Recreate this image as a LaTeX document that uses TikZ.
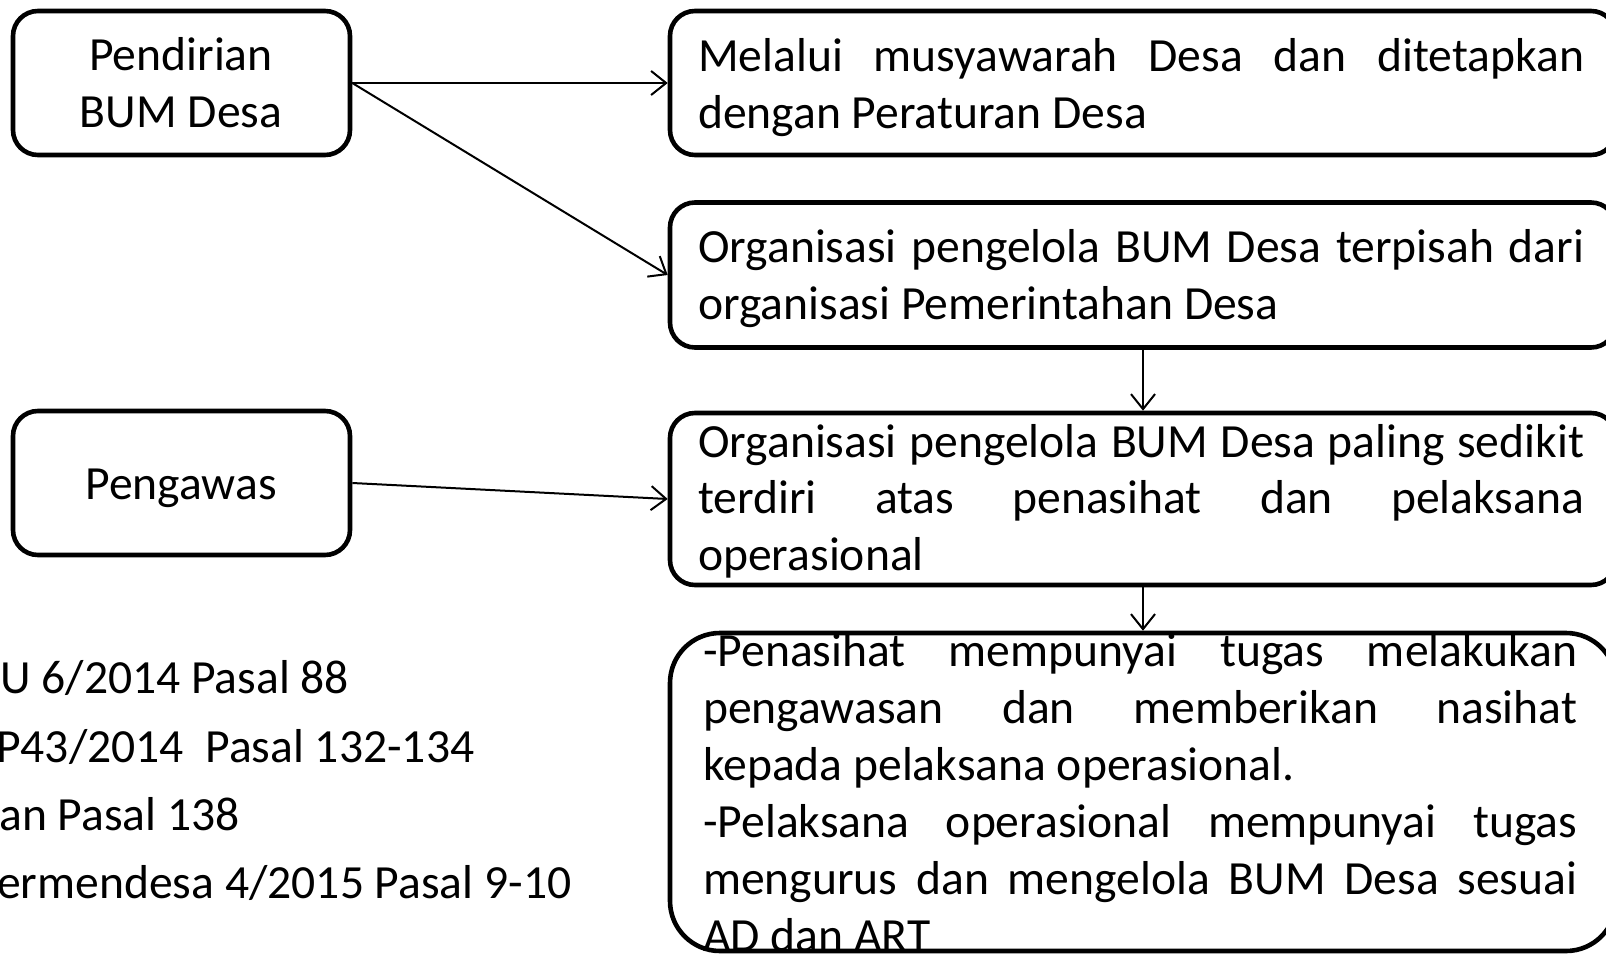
\documentclass[tikz,border=0pt]{standalone}
\usepackage{fontspec}
\setmainfont{Carlito}
\usetikzlibrary{arrows.meta}
\begin{document}
\begin{tikzpicture}[x=1pt,y=-1pt,
  box/.style={draw, line width=4.6pt, rounded corners=25pt, inner sep=0pt},
  bigbox/.style={box, rounded corners=50pt},
  txt/.style={inner sep=0pt, anchor=base west, align=left, font=\fontsize{47.6}{57}\selectfont},
  ctxt/.style={inner sep=0pt, anchor=base, align=center, font=\fontsize{47.6}{57}\selectfont},
  conn/.style={line width=2pt, -{Straight Barb[length=15pt,width=24pt]}}]
\useasboundingbox (0,0) rectangle (1606,955);
\clip (0,0) rectangle (1606,955);
% texts (anchor = baseline of last line)
\node[ctxt] (tpend) at (181,128) {Pendirian\\BUM Desa};
\node[ctxt] (tpeng) at (181,499) {Pengawas};
\node[txt] (t2) at (698,129) {\makebox[886pt][s]{Melalui musyawarah Desa dan ditetapkan}\\dengan Peraturan Desa};
\node[txt] (t3) at (698,319) {\makebox[886pt][s]{Organisasi pengelola BUM Desa terpisah dari}\\organisasi Pemerintahan Desa};
\node[txt, font=\fontsize{47.6}{56.5}\selectfont] (t5) at (698,570) {\makebox[886pt][s]{Organisasi pengelola BUM Desa paling sedikit}\\\makebox[886pt][s]{terdiri atas penasihat dan pelaksana}\\operasional};
\node[txt, font=\fontsize{47.6}{57}\selectfont] (t6) at (703,951) {\makebox[874pt][s]{-Penasihat mempunyai tugas melakukan}\\\makebox[874pt][s]{pengawasan dan memberikan nasihat}\\kepada pelaksana operasional.\\\makebox[874pt][s]{-Pelaksana operasional mempunyai tugas}\\\makebox[874pt][s]{mengurus dan mengelola BUM Desa sesuai}\\AD dan ART};
\node[txt] (l1) at (0,693) {U 6/2014 Pasal 88};
\node[txt] (l2) at (-4,762) {P43/2014\ \ Pasal 132-134};
\node[txt] (l3) at (-1,830) {an Pasal 138};
\node[txt] (l4) at (-3,898) {ermendesa 4/2015 Pasal 9-10};
% boxes
\node[box, minimum width=337pt, minimum height=144pt] (b1) at (181.5,83) {};
\node[box, minimum width=337pt, minimum height=144pt] (b4) at (181.5,483) {};
\node[box, minimum width=946pt, minimum height=144pt] (b2) at (1143,83) {};
\node[box, minimum width=946pt, minimum height=145pt] (b3) at (1143,275) {};
\node[box, minimum width=946pt, minimum height=172pt] (b5) at (1143,499) {};
\node[bigbox, minimum width=946pt, minimum height=318pt] (b6) at (1143,792) {};
% connectors
\draw[conn] (b1.east) -- (b2.west);
\draw[conn] (b1.east) -- (b3.west);
\draw[conn] (b4.east) -- (b5.west);
\draw[conn] (b3.south) -- (b5.north);
\draw[conn] (b5.south) -- (b6.north);
\end{tikzpicture}
\end{document}
